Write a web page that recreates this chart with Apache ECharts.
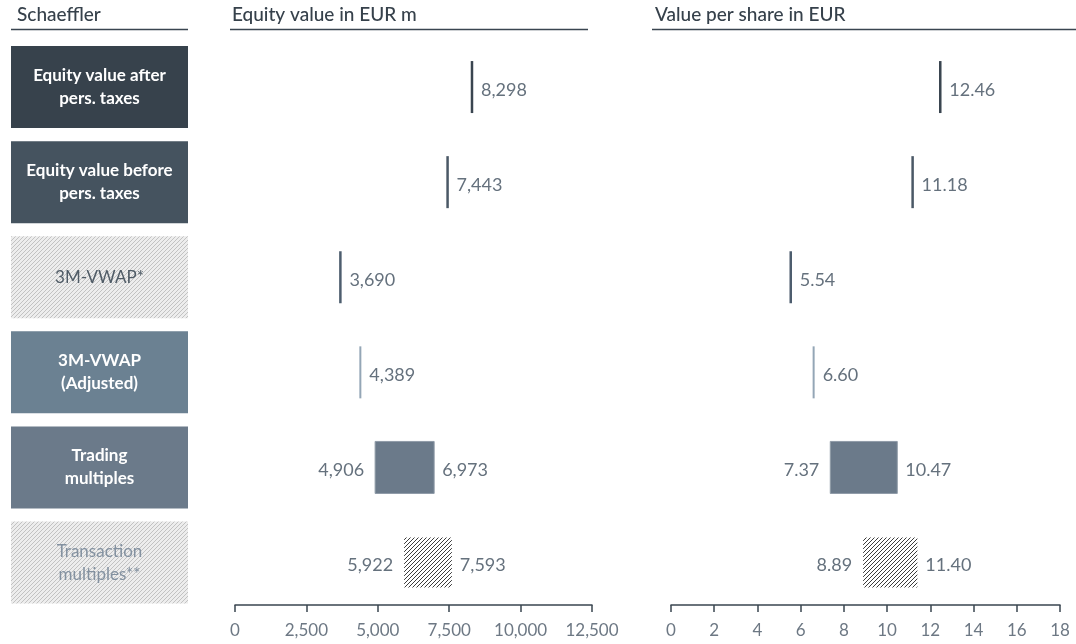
<!DOCTYPE html>
<html>
<head>
<meta charset="utf-8">
<script src="https://cdn.jsdelivr.net/npm/echarts@6/dist/echarts.min.js"></script>
<style>
  html, body { margin: 0; padding: 0; background: #ffffff; }
  #chart { width: 1076px; height: 644px; }
</style>
</head>
<body>
<div id="chart"></div>
<script>
// Valuation methods (rows, top to bottom)
const categories = [
  'Equity value after\npers. taxes',
  'Equity value before\npers. taxes',
  '3M-VWAP*',
  '3M-VWAP\n(Adjusted)',
  'Trading\nmultiples',
  'Transaction\nmultiples**'
];

// Equity value in EUR m (low / high; equal values are single-point results)
const equityLow  = [8298, 7443, 3690, 4389, 4906, 5922];
const equityHigh = [8298, 7443, 3690, 4389, 6973, 7593];

// Value per share in EUR
const perShareLow  = [12.46, 11.18, 5.54, 6.60, 7.37, 8.89];
const perShareHigh = [12.46, 11.18, 5.54, 6.60, 10.47, 11.40];

// Axis tick labels
const equityTicks   = [0, 2500, 5000, 7500, 10000, 12500];
const perShareTicks = [0, 2, 4, 6, 8, 10, 12, 14, 16, 18];

const FONT = 'Lato, "Open Sans", "Noto Sans", sans-serif';

// Diagonal hatch pattern tile
function makeHatch(bg, fg, size, lw) {
  const c = document.createElement('canvas');
  c.width = size; c.height = size;
  const g = c.getContext('2d');
  g.fillStyle = bg;
  g.fillRect(0, 0, size, size);
  g.strokeStyle = fg;
  g.lineWidth = lw;
  g.beginPath();
  g.moveTo(0, size); g.lineTo(size, 0);
  g.moveTo(-size, size); g.lineTo(size, -size);
  g.moveTo(0, 2 * size); g.lineTo(2 * size, 0);
  g.stroke();
  return c;
}
const boxHatch = { image: makeHatch('#ededed', '#c2c2c2', 4, 1), repeat: 'repeat' };
const barHatch = { image: makeHatch('#ffffff', '#3c3c3c', 4, 1), repeat: 'repeat' };

// Row styling
const boxColors  = ['#37424c', '#45535f', boxHatch, '#6b8192', '#6b7a8a', boxHatch];
const boxText    = ['#ffffff', '#ffffff', '#4f5b66', '#ffffff', '#ffffff', '#8391a0'];
const boxWeight  = ['bold', 'bold', 'normal', 'bold', 'bold', 'normal'];
const markColors = ['#3a4550', '#4a5866', '#4d5d6e', '#94a6b6', '#6b7a8a', barHatch];
const markWidths = [2.5, 2.5, 2.5, 2, 0, 0];

function rangeSeries(xIdx, low, high, fmt) {
  return {
    type: 'custom',
    xAxisIndex: xIdx,
    yAxisIndex: xIdx,
    encode: { x: [0, 1], y: 2 },
    data: low.map((v, i) => [v, high[i], i]),
    renderItem: function (params, api) {
      const i = api.value(2);
      const lo = api.value(0), hi = api.value(1);
      const p0 = api.coord([lo, i]);
      const p1 = api.coord([hi, i]);
      const h = 52;
      const y = p0[1] - h / 2;
      const ty = p0[1] + 3;
      const textStyle = {
        fill: '#65717d', fontSize: 18, fontFamily: FONT, fontWeight: 'normal',
        verticalAlign: 'middle'
      };
      const children = [];
      if (lo === hi) {
        const w = markWidths[i];
        children.push({
          type: 'rect',
          shape: { x: p0[0] - w / 2, y: y, width: w, height: h },
          style: { fill: markColors[i] }
        });
        children.push({
          type: 'text',
          style: Object.assign({ text: fmt(lo), x: p0[0] + 9, y: ty, align: 'left' }, textStyle)
        });
      } else {
        const isHatch = typeof markColors[i] !== 'string';
        children.push({
          type: 'rect',
          shape: { x: p0[0], y: isHatch ? y + 1 : y, width: p1[0] - p0[0], height: isHatch ? h - 2 : h },
          style: {
            fill: markColors[i],
            stroke: isHatch ? null : '#8f9ba7',
            lineWidth: isHatch ? 0 : 1
          }
        });
        children.push({
          type: 'text',
          style: Object.assign({ text: fmt(lo), x: p0[0] - 11, y: ty, align: 'right' }, textStyle)
        });
        children.push({
          type: 'text',
          style: Object.assign({ text: fmt(hi), x: p1[0] + 8, y: ty, align: 'left' }, textStyle)
        });
      }
      return { type: 'group', children: children };
    }
  };
}

function valueAxis(gridIndex, ticks, fmt) {
  return {
    type: 'value',
    gridIndex: gridIndex,
    min: ticks[0],
    max: ticks[ticks.length - 1],
    interval: ticks[1] - ticks[0],
    offset: -5,
    splitLine: { show: false },
    axisLine: { show: true, lineStyle: { color: '#3a4550', width: 1.5 } },
    axisTick: { show: true, length: 7, lineStyle: { color: '#3a4550', width: 1.5 } },
    axisLabel: {
      margin: 17, color: '#6d7884', fontSize: 17, fontFamily: FONT, fontWeight: 'normal',
      formatter: fmt
    }
  };
}

function catAxis(gridIndex) {
  return {
    type: 'category',
    gridIndex: gridIndex,
    data: categories,
    inverse: true,
    show: false
  };
}

const fmtEquity = v => Math.round(v).toLocaleString('en-US');
const fmtShare = v => v.toFixed(2);

const chart = echarts.init(document.getElementById('chart'), null, { renderer: 'canvas' });

const headerStyle = { fill: '#36414b', fontSize: 19, fontFamily: FONT, fontWeight: 500 };

chart.setOption({
  animation: false,
  backgroundColor: '#ffffff',
  grid: [
    { left: 11, width: 177, top: 39.5, height: 570.6 },
    { left: 235, width: 357, top: 39.5, height: 570.6 },
    { left: 671, width: 389, top: 39.5, height: 570.6 }
  ],
  xAxis: [
    { type: 'value', gridIndex: 0, min: 0, max: 1, show: false },
    valueAxis(1, equityTicks, fmtEquity),
    valueAxis(2, perShareTicks, v => String(v))
  ],
  yAxis: [catAxis(0), catAxis(1), catAxis(2)],
  graphic: [
    { type: 'text', left: 17, top: 5, style: Object.assign({ text: 'Schaeffler' }, headerStyle) },
    { type: 'text', left: 232, top: 5, style: Object.assign({ text: 'Equity value in EUR m' }, headerStyle) },
    { type: 'text', left: 655, top: 5, style: Object.assign({ text: 'Value per share in EUR' }, headerStyle) },
    { type: 'line', shape: { x1: 11, y1: 29.5, x2: 188, y2: 29.5 }, style: { stroke: '#3a4550', lineWidth: 1.5 } },
    { type: 'line', shape: { x1: 230, y1: 29.5, x2: 588, y2: 29.5 }, style: { stroke: '#3a4550', lineWidth: 1.5 } },
    { type: 'line', shape: { x1: 652, y1: 29.5, x2: 1076, y2: 29.5 }, style: { stroke: '#3a4550', lineWidth: 1.5 } }
  ],
  series: [
    {
      type: 'bar',
      xAxisIndex: 0,
      yAxisIndex: 0,
      barWidth: 82,
      data: categories.map((c, i) => ({
        value: 1,
        itemStyle: { color: boxColors[i] },
        label: { color: boxText[i], fontWeight: boxWeight[i] }
      })),
      label: {
        show: true,
        position: 'inside',
        formatter: p => p.name,
        fontSize: 17,
        lineHeight: 23,
        fontFamily: FONT,
        align: 'center'
      }
    },
    rangeSeries(1, equityLow, equityHigh, fmtEquity),
    rangeSeries(2, perShareLow, perShareHigh, fmtShare)
  ]
});
</script>
</body>
</html>
